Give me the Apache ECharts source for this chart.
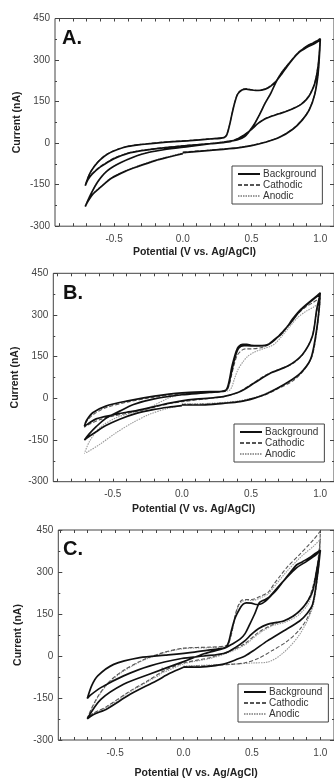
<!DOCTYPE html>
<html>
<head>
<meta charset="utf-8">
<script src="https://cdn.jsdelivr.net/npm/echarts@6/dist/echarts.min.js"></script>
<style>
  html, body { margin: 0; padding: 0; background: #fff; }
  #chart { width: 334px; height: 781px; }
</style>
</head>
<body>
<div id="chart"></div>
<script>
// tick values / labels
const xLabelValues = [-0.5, 0, 0.5, 1.0]
const xTickValues = [-0.9, -0.8, -0.7, -0.6, -0.5, -0.4, -0.3, -0.2, -0.1, 0, 0.1, 0.2, 0.3, 0.4, 0.5, 0.6, 0.7, 0.8, 0.9, 1.0]
const seriesNames = ['Background', 'Cathodic', 'Anodic']
const panelLabels = ['A.', 'B.', 'C.']

// panel A  [potential V, current nA]
const aBackground = [
  [0.0, -34], [0.2, -26], [0.4, -17], [0.5, -9], [0.6, 3], [0.7, 20], [0.8, 50], [0.87, 84], [0.92, 120], [0.96, 176], [0.985, 255], [1.0, 376],
  [0.96, 364], [0.92, 355], [0.88, 342], [0.84, 326], [0.8, 303], [0.76, 278], [0.72, 250], [0.68, 224], [0.64, 206], [0.6, 195], [0.55, 190], [0.5, 192], [0.46, 195], [0.43, 192], [0.4, 178], [0.38, 150], [0.36, 110], [0.34, 65], [0.32, 30], [0.3, 20], [0.2, 15], [0.05, 9], [-0.14, 3], [-0.3, -5], [-0.4, -12], [-0.48, -24], [-0.55, -40], [-0.6, -60], [-0.64, -82], [-0.67, -104], [-0.69, -125], [-0.71, -154],
  [-0.69, -132], [-0.66, -112], [-0.6, -86], [-0.55, -70], [-0.5, -56], [-0.4, -37], [-0.3, -27], [-0.14, -17], [0.05, -8], [0.2, -2], [0.33, 4], [0.4, 16], [0.45, 30], [0.5, 50], [0.55, 72], [0.6, 88], [0.65, 98], [0.7, 106], [0.75, 114], [0.8, 124], [0.86, 140], [0.9, 158], [0.93, 180], [0.96, 215], [0.985, 280], [1.0, 372],
  [0.96, 360], [0.9, 345], [0.84, 325], [0.78, 292], [0.72, 255], [0.68, 222], [0.64, 180], [0.6, 145], [0.56, 105], [0.52, 68], [0.48, 40], [0.45, 24], [0.4, 12], [0.3, 4], [0.05, -12], [-0.14, -24], [-0.3, -40], [-0.45, -70], [-0.55, -100], [-0.62, -140], [-0.67, -185], [-0.71, -229],
  [-0.69, -210], [-0.65, -182], [-0.6, -160], [-0.52, -127], [-0.42, -102], [-0.33, -85], [-0.2, -63], [-0.1, -50], [0.0, -38]
]
const aCathodic = [
  [0.0, -32], [0.2, -25], [0.4, -16], [0.5, -8], [0.6, 4], [0.7, 21], [0.8, 51], [0.87, 86], [0.92, 122], [0.96, 178], [0.985, 258], [1.0, 378],
  [0.96, 366], [0.9, 350], [0.84, 328], [0.8, 306], [0.76, 280], [0.72, 252], [0.68, 226], [0.64, 208], [0.6, 196], [0.55, 191], [0.5, 193], [0.46, 197], [0.43, 193], [0.4, 180], [0.38, 152], [0.36, 112], [0.34, 66], [0.32, 32], [0.3, 21], [0.2, 16], [0.05, 10], [-0.14, 4], [-0.3, -4], [-0.4, -11], [-0.48, -23], [-0.55, -39], [-0.6, -58], [-0.64, -80], [-0.67, -102], [-0.69, -124], [-0.71, -152],
  [-0.69, -130], [-0.66, -110], [-0.6, -84], [-0.55, -68], [-0.5, -54], [-0.4, -36], [-0.3, -26], [-0.14, -16], [0.05, -7], [0.2, -1], [0.33, 5], [0.4, 17], [0.45, 31], [0.5, 51], [0.55, 73], [0.6, 89], [0.65, 99], [0.7, 107], [0.75, 115], [0.8, 125], [0.86, 141], [0.9, 160], [0.93, 182], [0.96, 218], [0.985, 284], [1.0, 374]
]
const aAnodic = [
  [1.0, 374], [0.96, 362], [0.9, 347], [0.84, 327], [0.78, 294], [0.72, 257], [0.68, 224], [0.64, 182], [0.6, 147], [0.56, 107], [0.52, 70], [0.48, 42], [0.45, 26], [0.4, 13], [0.3, 5], [0.05, -11], [-0.14, -23], [-0.3, -39], [-0.45, -69], [-0.55, -99], [-0.62, -139], [-0.67, -184], [-0.71, -227],
  [-0.69, -208], [-0.65, -180], [-0.6, -158], [-0.52, -125], [-0.42, -100], [-0.33, -83], [-0.2, -61], [-0.1, -48], [0.0, -36], [0.2, -25], [0.4, -16], [0.5, -8], [0.6, 4], [0.7, 21], [0.8, 51], [0.87, 85], [0.92, 121], [0.96, 177], [0.985, 256], [1.0, 374]
]

// panel B
const bBackground = [
  [0.0, -24], [0.15, -24], [0.3, -18], [0.42, -12], [0.52, 0], [0.6, 14], [0.66, 28], [0.76, 56], [0.86, 92], [0.93, 140], [0.967, 224], [0.99, 310], [1.0, 380],
  [0.96, 362], [0.93, 350], [0.86, 320], [0.8, 285], [0.765, 260], [0.72, 232], [0.67, 212], [0.63, 196], [0.6, 191], [0.55, 190], [0.5, 191], [0.47, 194], [0.44, 194], [0.41, 186], [0.395, 172], [0.375, 140], [0.36, 110], [0.345, 70], [0.33, 40], [0.31, 26], [0.2, 24], [0.0, 20], [-0.2, 8], [-0.4, -10], [-0.55, -28], [-0.645, -52], [-0.69, -80], [-0.705, -100],
  [-0.68, -92], [-0.62, -74], [-0.5, -60], [-0.4, -50], [-0.335, -45], [-0.2, -30], [-0.1, -18], [0.0, -9], [0.1, -3], [0.2, 1], [0.3, 6], [0.4, 20], [0.45, 32], [0.526, 56], [0.645, 92], [0.765, 116], [0.872, 158], [0.944, 224], [0.975, 320], [1.0, 375],
  [0.93, 348], [0.86, 318], [0.77, 262], [0.67, 210], [0.6, 190], [0.5, 189], [0.45, 190], [0.41, 180], [0.38, 140], [0.35, 75], [0.32, 30], [0.2, 21], [0.0, 13], [-0.2, -2], [-0.35, -22], [-0.45, -46], [-0.55, -72], [-0.62, -102], [-0.67, -128], [-0.705, -150],
  [-0.68, -140], [-0.62, -120], [-0.55, -98], [-0.45, -75], [-0.335, -55], [-0.2, -40], [-0.1, -32], [0.0, -26]
]
const bCathodic = [
  [0.0, -22], [0.2, -20], [0.4, -12], [0.5, -2], [0.6, 12], [0.7, 36], [0.8, 62], [0.88, 100], [0.94, 150], [0.975, 240], [1.0, 362],
  [0.95, 345], [0.9, 330], [0.84, 305], [0.78, 268], [0.72, 236], [0.67, 210], [0.62, 192], [0.57, 182], [0.5, 178], [0.46, 178], [0.43, 172], [0.4, 155], [0.38, 125], [0.36, 85], [0.34, 45], [0.32, 28], [0.2, 22], [0.0, 16], [-0.2, 4], [-0.4, -14], [-0.55, -34], [-0.64, -58], [-0.69, -84], [-0.705, -104],
  [-0.68, -96], [-0.6, -78], [-0.5, -64], [-0.4, -54], [-0.3, -44], [-0.2, -32], [-0.1, -20], [0.0, -12], [0.2, 0], [0.3, 6], [0.4, 20], [0.5, 50], [0.6, 82], [0.7, 104], [0.8, 124], [0.88, 162], [0.94, 220], [0.975, 310], [1.0, 360]
]
const bAnodic = [
  [0.0, -20], [0.2, -18], [0.4, -10], [0.5, 0], [0.6, 16], [0.7, 40], [0.8, 66], [0.88, 104], [0.94, 150], [0.975, 240], [1.0, 344],
  [0.95, 328], [0.9, 314], [0.84, 292], [0.78, 258], [0.72, 222], [0.68, 200], [0.645, 188], [0.574, 176], [0.52, 165], [0.478, 152], [0.44, 130], [0.406, 104], [0.38, 70], [0.36, 40], [0.34, 28], [0.2, 22], [0.0, 14], [-0.1, 0], [-0.24, -34], [-0.36, -52], [-0.476, -70], [-0.595, -106], [-0.667, -154], [-0.705, -198],
  [-0.68, -192], [-0.595, -166], [-0.476, -124], [-0.357, -88], [-0.237, -58], [-0.1, -36], [0.0, -26]
]

// panel C
const cBackground = [
  [0.0, -40], [0.1, -40], [0.2, -36], [0.3, -28], [0.4, -10], [0.45, 0], [0.52, 22], [0.613, 54], [0.731, 89], [0.849, 125], [0.9, 150], [0.944, 185], [0.98, 292], [1.0, 378],
  [0.96, 365], [0.92, 351], [0.87, 337], [0.826, 325], [0.78, 298], [0.731, 268], [0.68, 236], [0.637, 214], [0.6, 196], [0.56, 185], [0.531, 184], [0.496, 189], [0.46, 190], [0.436, 185], [0.41, 168], [0.378, 137], [0.35, 90], [0.33, 50], [0.307, 30], [0.2, 22], [0.08, 14], [-0.132, 3], [-0.32, -6], [-0.51, -30], [-0.627, -71], [-0.67, -105], [-0.703, -152],
  [-0.68, -140], [-0.604, -113], [-0.438, -71], [-0.25, -36], [-0.014, -9], [0.15, 0], [0.3, 10], [0.378, 30], [0.45, 55], [0.496, 77], [0.55, 98], [0.613, 113], [0.68, 120], [0.731, 125], [0.8, 142], [0.849, 161], [0.9, 190], [0.944, 232], [0.975, 310], [1.0, 375],
  [0.95, 355], [0.9, 338], [0.826, 315], [0.75, 278], [0.68, 240], [0.62, 208], [0.58, 198], [0.555, 191], [0.52, 150], [0.484, 113], [0.45, 80], [0.413, 60], [0.354, 42], [0.3, 28], [0.15, 8], [0.0, -20], [-0.25, -65], [-0.438, -101], [-0.604, -155], [-0.703, -224],
  [-0.66, -210], [-0.557, -188], [-0.39, -137], [-0.2, -89], [-0.1, -62], [0.0, -40]
]
const cCathodic = [
  [0.0, -38], [0.2, -34], [0.35, -30], [0.45, -24], [0.55, -8], [0.65, 20], [0.75, 50], [0.85, 95], [0.92, 150], [0.96, 220], [0.99, 330], [1.0, 446],
  [0.95, 415], [0.92, 399], [0.85, 363], [0.755, 316], [0.7, 282], [0.66, 256], [0.62, 228], [0.565, 214], [0.5, 202], [0.46, 202], [0.425, 199], [0.4, 180], [0.38, 150], [0.36, 100], [0.34, 60], [0.32, 38], [0.2, 32], [0.0, 28], [-0.15, 12], [-0.3, -15], [-0.45, -55], [-0.55, -95], [-0.62, -140], [-0.67, -185], [-0.703, -222],
  [-0.66, -205], [-0.56, -180], [-0.4, -128], [-0.25, -85], [-0.15, -55], [0.0, -25], [0.2, -5], [0.35, 20], [0.45, 45], [0.55, 85], [0.65, 112], [0.75, 128], [0.85, 160], [0.92, 210], [0.97, 300], [1.0, 420]
]
const cAnodic = [
  [0.0, -36], [0.2, -32], [0.4, -28], [0.5, -25], [0.613, -22], [0.731, 12], [0.849, 77], [0.944, 173], [0.98, 290], [1.0, 417],
  [0.95, 392], [0.9, 372], [0.85, 350], [0.76, 305], [0.7, 270], [0.66, 246], [0.62, 222], [0.565, 208], [0.5, 198], [0.46, 198], [0.425, 194], [0.4, 176], [0.38, 146], [0.36, 98], [0.34, 58], [0.32, 36], [0.2, 30], [0.0, 26], [-0.15, 10], [-0.3, -17], [-0.45, -58], [-0.55, -98], [-0.62, -143], [-0.67, -188], [-0.703, -224],
  [-0.66, -207], [-0.56, -183], [-0.4, -131], [-0.25, -88], [-0.16, -60], [-0.155, -40], [-0.15, -58], [0.0, -28], [0.2, -8], [0.35, 16], [0.45, 40], [0.55, 80], [0.65, 108], [0.75, 122], [0.85, 150], [0.92, 195], [0.97, 290], [1.0, 410]
]

const panelData = [
  [aBackground, aCathodic, aAnodic],
  [bBackground, bCathodic, bAnodic],
  [cBackground, cCathodic, cAnodic]
]

// layout of the three panels (px)
const panels = [
  { left: 55, top: 18.5, width: 281.4, height: 207.7, xMin: -0.93, xGap: 20, yGap: 32, label: { left: 62, top: 28 }, legend: { left: 232, top: 166 } },
  { left: 53.3, top: 273.3, width: 282.2, height: 208.4, xMin: -0.93, xGap: 22, yGap: 33, label: { left: 63, top: 283 }, legend: { left: 234, top: 424 } },
  { left: 58.3, top: 530, width: 280, height: 210, xMin: -0.915, xGap: 28, yGap: 35, label: { left: 63, top: 539 }, legend: { left: 238, top: 684 } }
]

const lineStyles = {
  Background: { color: '#111', width: 1.7, type: 'solid', z: 4 },
  Cathodic: { color: '#555', width: 1.1, type: [4, 2], z: 3 },
  Anodic: { color: '#9a9a9a', width: 1.1, type: [1.5, 1], z: 2 }
}

const font = 'Liberation Sans, Arial, sans-serif'

const chart = echarts.init(document.getElementById('chart'), null, { renderer: 'canvas' })

const grid = [], xAxis = [], yAxis = [], series = [], legend = [], title = []

panels.forEach((p, i) => {
  grid.push({
    left: p.left, top: p.top, width: p.width, height: p.height,
    show: true, borderColor: '#444', borderWidth: 1, backgroundColor: 'transparent'
  })
  // bottom x
  xAxis.push({
    gridIndex: i, type: 'value', min: p.xMin, max: 1.1, position: 'bottom',
    axisLine: { show: false, onZero: false },
    axisTick: { show: true, inside: true, length: 3, customValues: xTickValues, lineStyle: { color: '#444' } },
    axisLabel: { customValues: xLabelValues, formatter: v => v.toFixed(1), fontSize: 10, color: '#444', fontFamily: font, margin: 8 },
    splitLine: { show: false },
    name: 'Potential (V vs. Ag/AgCl)', nameLocation: 'middle', nameGap: p.xGap, nameMoveOverlap: false,
    nameTextStyle: { fontSize: 10.5, fontWeight: 'bold', color: '#222', fontFamily: font, verticalAlign: 'top' }
  })
  // top x (ticks only)
  xAxis.push({
    gridIndex: i, type: 'value', min: p.xMin, max: 1.1, position: 'top',
    axisLine: { show: false, onZero: false },
    axisTick: { show: true, inside: true, length: 3, customValues: xTickValues, lineStyle: { color: '#444' } },
    axisLabel: { show: false }, splitLine: { show: false }
  })
  // left y
  yAxis.push({
    gridIndex: i, type: 'value', min: -300, max: 450, interval: 150, position: 'left',
    axisLine: { show: false, onZero: false },
    axisTick: { show: true, inside: true, length: 4, lineStyle: { color: '#444' } },
    minorTick: { show: true, splitNumber: 2, length: 2, lineStyle: { color: '#444' } },
    axisLabel: { fontSize: 10, color: '#444', fontFamily: font, margin: 5 },
    splitLine: { show: false },
    name: 'Current (nA)', nameLocation: 'middle', nameGap: p.yGap, nameMoveOverlap: false,
    nameTextStyle: { fontSize: 10.5, fontWeight: 'bold', color: '#222', fontFamily: font }
  })
  // right y (ticks only)
  yAxis.push({
    gridIndex: i, type: 'value', min: -300, max: 450, interval: 150, position: 'right',
    axisLine: { show: false, onZero: false },
    axisTick: { show: true, inside: true, length: 4, lineStyle: { color: '#444' } },
    minorTick: { show: true, splitNumber: 2, length: 2, lineStyle: { color: '#444' } },
    axisLabel: { show: false }, splitLine: { show: false }
  })

  seriesNames.forEach((name, k) => {
    const st = lineStyles[name]
    series.push({
      name, type: 'line',
      xAxisIndex: 2 * i, yAxisIndex: 2 * i,
      data: panelData[i][k],
      smooth: 0.3,
      symbol: 'none', showSymbol: false,
      clip: true,
      z: st.z,
      lineStyle: { color: st.color, width: st.width, type: st.type },
      itemStyle: { color: st.color },
      emphasis: { disabled: true },
      animation: false
    })
  })

  legend.push({
    data: seriesNames,
    orient: 'vertical',
    left: p.legend.left, top: p.legend.top,
    itemWidth: 22, itemHeight: 9, itemGap: 1,
    padding: [3, 6, 3, 5],
    borderColor: '#444', borderWidth: 1, backgroundColor: '#fff',
    itemStyle: { opacity: 0 },
    textStyle: { fontSize: 10, color: '#333', fontFamily: font, padding: [0, 0, 0, -2] },
    selectedMode: false
  })

  title.push({
    text: panelLabels[i], left: p.label.left, top: p.label.top, padding: 0,
    textStyle: { fontSize: 20, fontWeight: 'bold', color: '#111', fontFamily: font }
  })
})

chart.setOption({
  animation: false,
  backgroundColor: '#fff',
  title, grid, xAxis, yAxis, series, legend
})
</script>
</body>
</html>
